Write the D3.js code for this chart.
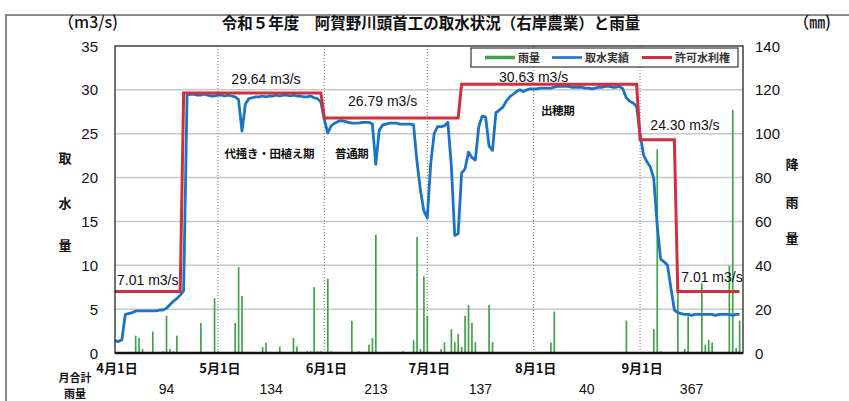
<!DOCTYPE html>
<html lang="ja">
<head>
<meta charset="UTF-8">
<script src="https://d3js.org/d3.v7.min.js"></script>
<title>阿賀野川頭首工の取水状況</title>
<style>
  body { margin: 0; background: #fff; }
  svg text { font-family: "Liberation Sans", Arial, sans-serif; fill: #111; }
  svg text.jp { font-family: "Noto Sans CJK JP", sans-serif; font-weight: bold; }
</style>
</head>
<body>
<svg width="849" height="401"></svg>
<script>
// ---- data ----
var startDate = "2023-04-01";
var endDate = "2023-10-01";

// daily intake 4/1 .. 9/30 (m3/s)
var flow = [
  1.4,1.3,1.5,4.4,4.5,4.6,4.8,4.8,4.8,4.8,4.8,4.8,4.8,4.9,4.9,5.1,5.5,5.9,6.2,6.6,7.1,29.4,29.5,29.5,29.4,29.4,29.5,29.4,29.3,29.3,
  29.4,29.4,29.3,29.4,29.3,29.2,28.9,25.3,28.4,29.0,29.1,29.2,29.2,29.3,29.2,29.3,29.3,29.4,29.3,29.4,29.4,29.3,29.4,29.3,29.3,29.2,29.2,29.3,29.1,29.0,28.6,
  26.6,25.1,25.9,26.2,26.4,26.5,26.4,26.3,26.2,26.2,26.2,26.3,26.3,26.3,26.1,21.5,25.4,26.0,26.1,26.2,26.2,26.2,26.1,26.1,26.1,26.1,26.0,21.8,18.6,16.2,
  15.4,21.6,25.0,25.8,25.8,25.9,26.3,21.4,13.4,13.6,20.5,21.0,22.9,22.3,22.0,25.8,27.0,26.9,23.6,23.1,27.4,27.7,28.0,28.7,29.2,29.5,29.8,30.0,29.8,30.0,30.1,
  30.1,30.1,30.2,30.2,30.2,30.2,30.3,30.4,30.4,30.4,30.4,30.3,30.3,30.3,30.3,30.2,30.2,30.1,30.2,30.3,30.3,30.4,30.4,30.3,30.3,30.4,30.1,29.1,28.7,28.5,28.1,
  25.0,22.6,21.8,21.2,19.9,14.5,10.7,10.4,10.0,7.4,4.9,4.6,4.5,4.4,4.4,4.3,4.4,4.4,4.4,4.4,4.4,4.4,4.3,4.4,4.4,4.4,4.4,4.3,4.4,4.4
];

// permitted water right, step changes
var permitFrom = ["2023-04-01","2023-04-21","2023-06-01","2023-07-11","2023-09-01","2023-09-12"];
var permitValue = [7.01, 29.64, 26.79, 30.63, 24.30, 7.01];

// daily rainfall (mm), only days with rain
var rainDates = ["4/7","4/8","4/9","4/12","4/15","4/16","4/17","4/18","4/19","4/26","4/30",
  "5/1","5/6","5/7","5/8","5/14","5/15","5/19","5/23","5/24","5/27","5/28","5/29","5/30","5/31",
  "6/2","6/3","6/9","6/11","6/14","6/15","6/16","6/24","6/27","6/28","6/29","6/30",
  "7/1","7/5","7/6","7/8","7/9","7/10","7/11","7/12","7/13","7/14","7/15","7/19","7/20",
  "8/6","8/7","8/28",
  "9/5","9/6","9/7","9/12","9/14","9/15","9/19","9/20","9/21","9/22","9/27","9/28","9/29","9/30"];
var rainMm = [7.9,6.9,1.8,9.8,0.8,17,1.8,0.8,7.9,13.7,25,
  0.8,13.7,39.2,26,2.7,4.7,2.9,6.9,2.9,0.8,0.8,30,0.8,0.8,
  33.9,0.8,14.7,0.8,3.8,6.8,54,0.8,5.8,52.9,1.8,35,
  17,1.8,4.9,10.9,4.9,8.8,2.7,17,21.9,13.8,4.9,21.9,4.9,
  4.8,18.9,14.8,
  10.9,92.9,0.8,27.6,1.8,16.7,31.8,3.8,6,4.8,39.8,111,2.3,14.8];

var monthLabels = ["4月1日","5月1日","6月1日","7月1日","8月1日","9月1日"];
var monthTotals = [94, 134, 213, 137, 40, 367];
var flowTicks = [0,5,10,15,20,25,30,35];
var rainTicks = [0,20,40,60,80,100,120,140];
var periodNames = ["代掻き・田植え期","普通期","出穂期"];

// ---- layout ----
var svg = d3.select("svg");
var L = 115, R = 743, T = 46, B = 353;
var parse = d3.timeParse("%Y-%m-%d");
var parseMD = function(s){ return parse("2023-" + s.split("/").map(function(v){ return v.padStart(2,"0"); }).join("-")); };

var x = d3.scaleTime().domain([parse(startDate), parse(endDate)]).range([L, R]);
var y = d3.scaleLinear().domain([0, 35]).range([B, T]);
var y2 = d3.scaleLinear().domain([0, 140]).range([B, T]);

var days = flow.map(function(v, i){ return d3.timeDay.offset(parse(startDate), i); });
var permitDaily = days.map(function(d){
  var v = permitValue[0];
  permitFrom.forEach(function(f, k){ if (d >= parse(f)) v = permitValue[k]; });
  return v;
});
var monthStarts = d3.timeMonth.range(parse(startDate), parse(endDate));

// outer frame
svg.append("rect").attr("x", 6).attr("y", 15).attr("width", 900).attr("height", 500)
  .attr("fill", "none").attr("stroke", "#666").attr("stroke-width", 1.5);

// gridlines
svg.append("g").selectAll("line").data(flowTicks.slice(1, -1)).enter().append("line")
  .attr("x1", L).attr("x2", R)
  .attr("y1", function(d){ return y(d); }).attr("y2", function(d){ return y(d); })
  .attr("stroke", "#c8c8c8").attr("stroke-width", 1.5);

svg.append("g").selectAll("line").data(monthStarts.slice(1)).enter().append("line")
  .attr("x1", function(d){ return x(d); }).attr("x2", function(d){ return x(d); })
  .attr("y1", T).attr("y2", B)
  .attr("stroke", "#777").attr("stroke-width", 1).attr("stroke-dasharray", "1,2");

// rain bars
svg.append("g").selectAll("rect").data(rainDates).enter().append("rect")
  .attr("x", function(d){ return x(parseMD(d)) - 0.8; })
  .attr("width", 1.7)
  .attr("y", function(d, i){ return y2(rainMm[i]); })
  .attr("height", function(d, i){ return B - y2(rainMm[i]); })
  .attr("fill", "#43a24c");

// intake line
var line = d3.line().x(function(d){ return x(d[0]); }).y(function(d){ return y(d[1]); });
svg.append("path")
  .datum(days.map(function(d, i){ return [d, flow[i]]; }))
  .attr("d", line).attr("fill", "none")
  .attr("stroke", "#1a74c6").attr("stroke-width", 2.8).attr("stroke-linejoin", "round");

// permit line
svg.append("path")
  .datum(days.map(function(d, i){ return [d, permitDaily[i]]; }))
  .attr("d", line).attr("fill", "none")
  .attr("stroke", "#d02f3b").attr("stroke-width", 3);

// plot frame + axis
svg.append("rect").attr("x", L).attr("y", T).attr("width", R - L).attr("height", B - T)
  .attr("fill", "none").attr("stroke", "#111").attr("stroke-width", 1.2);
svg.append("line").attr("x1", L).attr("x2", R).attr("y1", B).attr("y2", B)
  .attr("stroke", "#111").attr("stroke-width", 2.5);

// axis labels
svg.append("g").selectAll("text").data(flowTicks).enter().append("text")
  .attr("x", 98).attr("y", function(d){ return y(d) + 5.5; })
  .attr("text-anchor", "end").attr("font-size", 15).text(function(d){ return d; });
svg.append("g").selectAll("text").data(rainTicks).enter().append("text")
  .attr("x", 755).attr("y", function(d){ return y2(d) + 5.5; })
  .attr("font-size", 15).text(function(d){ return d; });

svg.append("g").selectAll("text").data(monthStarts).enter().append("text")
  .attr("class", "jp").attr("x", function(d){ return x(d) + 2; }).attr("y", 373)
  .attr("text-anchor", "middle").attr("font-size", 13)
  .text(function(d, i){ return monthLabels[i]; });

svg.append("g").selectAll("text").data(monthStarts).enter().append("text")
  .attr("x", function(d){ return (x(d) + x(d3.timeMonth.offset(d, 1))) / 2; }).attr("y", 394)
  .attr("text-anchor", "middle").attr("font-size", 14)
  .text(function(d, i){ return monthTotals[i]; });

svg.append("text").attr("class", "jp").attr("x", 75).attr("y", 382)
  .attr("text-anchor", "middle").attr("font-size", 11).text("月合計");
svg.append("text").attr("class", "jp").attr("x", 75).attr("y", 397.5)
  .attr("text-anchor", "middle").attr("font-size", 11).text("雨量");

// vertical axis titles
["取","水","量"].forEach(function(c, i){
  svg.append("text").attr("class", "jp").attr("x", 65).attr("y", [163, 208, 250][i])
    .attr("text-anchor", "middle").attr("font-size", 13).text(c);
});
["降","雨","量"].forEach(function(c, i){
  svg.append("text").attr("class", "jp").attr("x", 792).attr("y", [169, 207, 243][i])
    .attr("text-anchor", "middle").attr("font-size", 13).text(c);
});

svg.append("text").attr("class", "jp").attr("x", 88).attr("y", 28)
  .attr("text-anchor", "middle").attr("font-size", 16).style("font-weight", "500").text("（m3/s)");
svg.append("text").attr("class", "jp").attr("x", 812).attr("y", 28)
  .attr("text-anchor", "middle").attr("font-size", 16).style("font-weight", "500").text("（㎜)");

// title
svg.append("text").attr("class", "jp").attr("x", 431).attr("y", 29)
  .attr("text-anchor", "middle").attr("font-size", 15.5)
  .text("令和５年度　阿賀野川頭首工の取水状況（右岸農業）と雨量");

// permit labels
var permitLabelPos = [
  { date: "2023-04-01", dx: 2, dy: -7, anchor: "start" },
  { date: "2023-05-15", dx: 0, dy: -9, anchor: "middle" },
  { date: "2023-06-18", dx: 0, dy: -12, anchor: "middle" },
  { date: "2023-08-01", dx: 0, dy: -2.5, anchor: "middle" },
  { date: "2023-09-04", dx: 0, dy: -10, anchor: "start" },
  { date: "2023-09-13", dx: 0, dy: -9.5, anchor: "start" }
];
svg.append("g").selectAll("text").data(permitValue).enter().append("text")
  .attr("x", function(d, i){ return x(parse(permitLabelPos[i].date)) + permitLabelPos[i].dx; })
  .attr("y", function(d, i){ return y(d) + permitLabelPos[i].dy; })
  .attr("text-anchor", function(d, i){ return permitLabelPos[i].anchor; })
  .attr("font-size", 14)
  .text(function(d){ return d.toFixed(2) + " m3/s"; });

// period labels
var periodPos = [["2023-05-16", 22.2], ["2023-06-09", 22.2], ["2023-08-08", 27.1]];
svg.append("g").selectAll("text").data(periodNames).enter().append("text")
  .attr("class", "jp")
  .attr("x", function(d, i){ return x(parse(periodPos[i][0])); })
  .attr("y", function(d, i){ return y(periodPos[i][1]); })
  .attr("text-anchor", "middle").attr("font-size", 11.5)
  .attr("letter-spacing", -0.3).text(function(d){ return d; });

// legend
var lg = svg.append("g");
lg.append("rect").attr("x", 471).attr("y", 48).attr("width", 267).attr("height", 19)
  .attr("fill", "#fff").attr("stroke", "#444").attr("stroke-width", 1.3);
var legendItems = [
  { name: "雨量", color: "#43a24c", w: 3.5, x: 485 },
  { name: "取水実績", color: "#1a74c6", w: 2.6, x: 552 },
  { name: "許可水利権", color: "#d02f3b", w: 3, x: 642 }
];
legendItems.forEach(function(it){
  lg.append("line").attr("x1", it.x).attr("x2", it.x + 30).attr("y1", 57.5).attr("y2", 57.5)
    .attr("stroke", it.color).attr("stroke-width", it.w);
  lg.append("text").attr("class", "jp").attr("x", it.x + 33).attr("y", 62)
    .attr("font-size", 11).style("fill", "#333").text(it.name);
});
</script>
</body>
</html>
